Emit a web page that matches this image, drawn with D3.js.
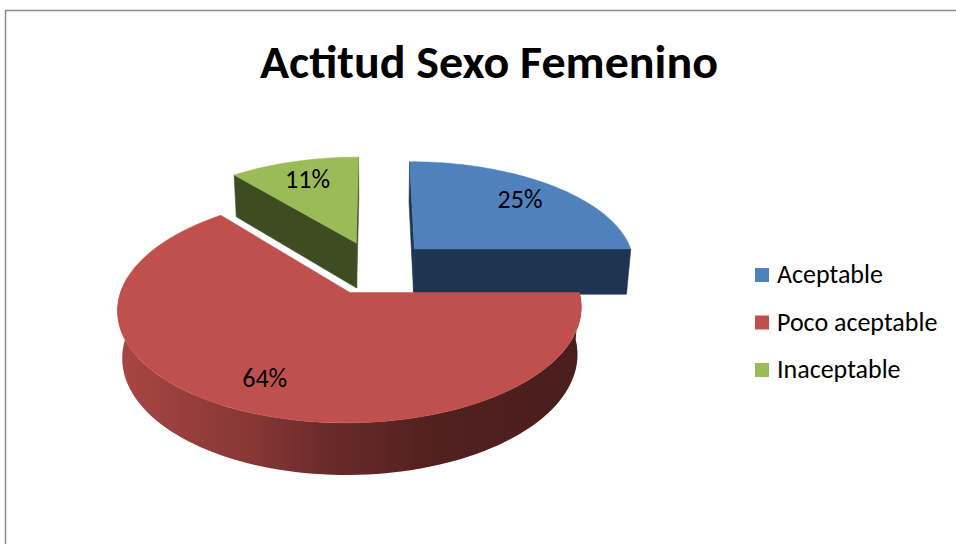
<!DOCTYPE html>
<html>
<head>
<meta charset="utf-8">
<script src="https://cdn.jsdelivr.net/npm/d3@7"></script>
<style>
  body { margin: 0; background: #fff; }
  svg { display: block; font-family: Carlito, Calibri, Lato, sans-serif; }
</style>
</head>
<body>
<div id="chart"></div>
<script>
// datos
var categories = ["Aceptable", "Poco aceptable", "Inaceptable"];
var values = [25, 64, 11];
var labels = ["25%", "64%", "11%"];

var topColors = ["#4f81bd", "#c0504d", "#9bbb59"];
var wallColors = ["#1f3450", "#4b1d1d", "#3e4c22"];

var width = 956, height = 544;

// geometria del pastel 3D
var R = 222, H = 53, explode = 57, labelFrac = 0.76;
var D = 1400, sinP = 0.47, cosP = Math.sqrt(1 - sinP * sinP);
var cx = 375, cy = 267.5;
var steps = 90;

function project(X, Y, Z) {
    var w = Z * cosP - Y * sinP,
        v = Z * sinP + Y * cosP,
        s = D / (D + w);
    return [cx + X * s, cy - v * s];
}

var svg = d3.select("#chart")
    .append("svg")
    .attr("width", width)
    .attr("height", height);

var defs = svg.append("defs");

// marco
svg.append("rect")
    .attr("x", 5.5)
    .attr("y", 10.5)
    .attr("width", 1000)
    .attr("height", 600)
    .attr("fill", "none")
    .attr("stroke", "#8c8c8c")
    .attr("stroke-width", 1.5);

svg.append("text")
    .attr("x", 489)
    .attr("y", 78)
    .attr("text-anchor", "middle")
    .attr("font-weight", "bold")
    .attr("font-size", 46)
    .attr("textLength", 458)
    .attr("lengthAdjust", "spacingAndGlyphs")
    .attr("fill", "#000")
    .text("Actitud Sexo Femenino");

var pie = d3.pie().sort(null).value(function(d) { return d; });
var arcs = pie(values).map(function(a, i) {
    var mid = (a.startAngle + a.endAngle) / 2;
    a.i = i;
    a.ox = explode * Math.sin(mid);
    a.oz = explode * Math.cos(mid);
    a.mid = mid;
    return a;
});

function rim(a, t, Y) {
    return project(a.ox + R * Math.sin(t), Y, a.oz + R * Math.cos(t));
}

function range(t0, t1) {
    var out = [];
    var n = Math.max(2, Math.ceil(steps * (t1 - t0) / Math.PI));
    for (var k = 0; k <= n; k++) out.push(t0 + (t1 - t0) * k / n);
    return out;
}

var line = d3.line().curve(d3.curveLinearClosed);
var camY = D * sinP, camZ = -D * cosP;

// de atras hacia adelante
var order = arcs.slice().sort(function(p, q) { return q.oz - p.oz; });

order.forEach(function(a) {
    var g = svg.append("g").attr("class", "slice");

    // paredes radiales
    [[a.startAngle, -Math.cos(a.startAngle), Math.sin(a.startAngle)],
     [a.endAngle, Math.cos(a.endAngle), -Math.sin(a.endAngle)]].forEach(function(e) {
        var dot = e[1] * (-a.ox) + e[2] * (camZ - a.oz);
        if (dot <= 0) return;
        var pts = [
            project(a.ox, 0, a.oz),
            rim(a, e[0], 0),
            rim(a, e[0], -H),
            project(a.ox, -H, a.oz)
        ];
        g.append("path")
            .attr("d", line(pts))
            .attr("fill", wallColors[a.i])
            .attr("stroke", wallColors[a.i])
            .attr("stroke-width", 0.6);
    });

    // lado curvo visible
    var s0 = Math.max(a.startAngle, Math.PI / 2),
        s1 = Math.min(a.endAngle, 3 * Math.PI / 2 + 0.15);
    if (s1 > s0) {
        var ts = range(s0, s1);
        var pts = ts.map(function(t) { return rim(a, t, 0); })
            .concat(ts.slice().reverse().map(function(t) { return rim(a, t, -H); }));
        var xs = d3.extent(pts, function(p) { return p[0]; });
        var gid = "side" + a.i;
        var mix = d3.interpolateRgb(topColors[a.i], wallColors[a.i]);
        var grad = defs.append("linearGradient")
            .attr("id", gid)
            .attr("gradientUnits", "userSpaceOnUse")
            .attr("x1", xs[0]).attr("x2", xs[1])
            .attr("y1", 0).attr("y2", 0);
        [[0, 0.2], [0.29, 0.5], [0.46, 0.75], [0.7, 0.95], [1, 1]].forEach(function(st) {
            grad.append("stop")
                .attr("offset", st[0])
                .attr("stop-color", mix(st[1]));
        });
        g.append("path")
            .attr("d", line(pts))
            .attr("fill", "url(#" + gid + ")");
    }

    // cara superior
    var topPts = [project(a.ox, 0, a.oz)]
        .concat(range(a.startAngle, a.endAngle).map(function(t) { return rim(a, t, 0); }));
    g.append("path")
        .attr("d", line(topPts))
        .attr("fill", topColors[a.i])
        .attr("stroke", topColors[a.i])
        .attr("stroke-width", 0.5);
});

// etiquetas
svg.selectAll("text.lbl")
    .data(arcs)
    .enter()
    .append("text")
    .attr("class", "lbl")
    .attr("transform", function(a) {
        var r = R * labelFrac;
        var p = project(a.ox + r * Math.sin(a.mid), 0, a.oz + r * Math.cos(a.mid));
        return "translate(" + p[0] + "," + p[1] + ")";
    })
    .attr("text-anchor", "middle")
    .attr("dominant-baseline", "central")
    .attr("font-size", 26)
    .attr("fill", "#000")
    .text(function(a) { return labels[a.i]; });

// leyenda
var legend = svg.selectAll("g.legend")
    .data(categories)
    .enter()
    .append("g")
    .attr("class", "legend")
    .attr("transform", function(d, i) { return "translate(755," + (268 + i * 47.5) + ")"; });

legend.append("rect")
    .attr("width", 14)
    .attr("height", 14)
    .attr("fill", function(d, i) { return topColors[i]; });

legend.append("text")
    .attr("x", 22)
    .attr("y", 6)
    .attr("dominant-baseline", "central")
    .attr("font-size", 26)
    .attr("fill", "#000")
    .text(function(d) { return d; });
</script>
</body>
</html>
